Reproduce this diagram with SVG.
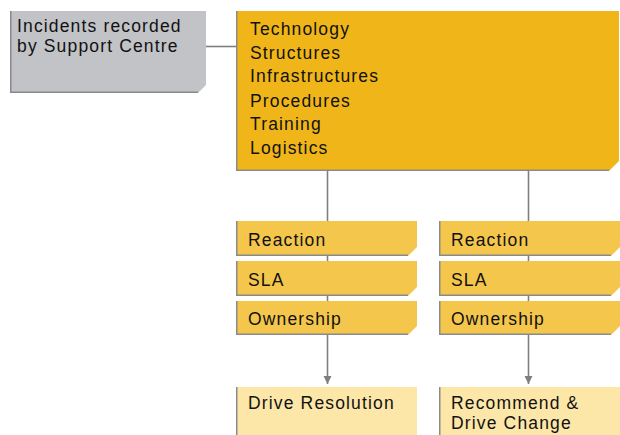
<svg xmlns="http://www.w3.org/2000/svg" width="620" height="435" viewBox="0 0 620 435">
<defs>
<style>
.t{font-family:"Liberation Sans",Arial,sans-serif;font-size:17.5px;fill:#111;letter-spacing:1.15px}
.edge{stroke:#8A8A8A;stroke-width:1.5;fill:none}
.conn{stroke:#7F7F7F;stroke-width:1.6;fill:none}
.gray{fill:#C2C3C7}
.main{fill:#F0B619}
.mid{fill:#F4C64C}
.light{fill:#FDE7A8}
</style>
<marker id="arr" viewBox="0 0 8 10" refX="8" refY="5" markerWidth="8" markerHeight="10" markerUnits="userSpaceOnUse" orient="auto">
<path d="M0,1 L8,5 L0,9 Z" fill="#7F7F7F"/>
</marker>
</defs>
<rect width="620" height="435" fill="#fff"/>
<g id="connectors">
<line class="conn" x1="206" y1="46.5" x2="236" y2="46.5"/>
<line class="conn" x1="327.5" y1="171" x2="327.5" y2="384" marker-end="url(#arr)"/>
<line class="conn" x1="528.5" y1="171" x2="528.5" y2="384" marker-end="url(#arr)"/>
</g>
<g id="incidents">
<path class="gray" d="M10,11 H206 V85 L198,93 H10 Z"/>
<polyline class="edge" points="10.75,11 10.75,92.25 198,92.25"/>
<text class="t" x="17" y="32">Incidents recorded</text>
<text class="t" x="17" y="52">by Support Centre</text>
</g>
<g id="factors">
<path class="main" d="M236,11 H619 V161 L609,171 H236 Z"/>
<polyline class="edge" points="236.75,11 236.75,170.25 609,170.25"/>
<text class="t" x="250" y="35">Technology</text>
<text class="t" x="250" y="59">Structures</text>
<text class="t" x="250" y="82">Infrastructures</text>
<text class="t" x="250" y="107">Procedures</text>
<text class="t" x="250" y="130">Training</text>
<text class="t" x="250" y="154">Logistics</text>
</g>
<g id="reaction-left">
<path class="mid" d="M236,221 H417 V247 L408,256 H236 Z"/>
<polyline class="edge" points="236.75,221 236.75,255.25 408,255.25"/>
<text class="t" x="248" y="246">Reaction</text>
</g>
<g id="sla-left">
<path class="mid" d="M236,261 H417 V287 L408,296 H236 Z"/>
<polyline class="edge" points="236.75,261 236.75,295.25 408,295.25"/>
<text class="t" x="248" y="286">SLA</text>
</g>
<g id="ownership-left">
<path class="mid" d="M236,301 H417 V326 L408,335 H236 Z"/>
<polyline class="edge" points="236.75,301 236.75,334.25 408,334.25"/>
<text class="t" x="248" y="325">Ownership</text>
</g>
<g id="reaction-right">
<path class="mid" d="M439,221 H620 V247 L611,256 H439 Z"/>
<polyline class="edge" points="439.75,221 439.75,255.25 611,255.25"/>
<text class="t" x="451" y="246">Reaction</text>
</g>
<g id="sla-right">
<path class="mid" d="M439,261 H620 V287 L611,296 H439 Z"/>
<polyline class="edge" points="439.75,261 439.75,295.25 611,295.25"/>
<text class="t" x="451" y="286">SLA</text>
</g>
<g id="ownership-right">
<path class="mid" d="M439,301 H620 V326 L611,335 H439 Z"/>
<polyline class="edge" points="439.75,301 439.75,334.25 611,334.25"/>
<text class="t" x="451" y="325">Ownership</text>
</g>
<g id="drive-resolution">
<path class="light" d="M236,387 H417 V436 H236 Z"/>
<polyline class="edge" points="236.75,387 236.75,436"/>
<text class="t" x="248" y="409">Drive Resolution</text>
</g>
<g id="recommend-change">
<path class="light" d="M439,387 H620 V436 H439 Z"/>
<polyline class="edge" points="439.75,387 439.75,436"/>
<text class="t" x="451" y="409">Recommend &amp;</text>
<text class="t" x="451" y="429">Drive Change</text>
</g>
</svg>
